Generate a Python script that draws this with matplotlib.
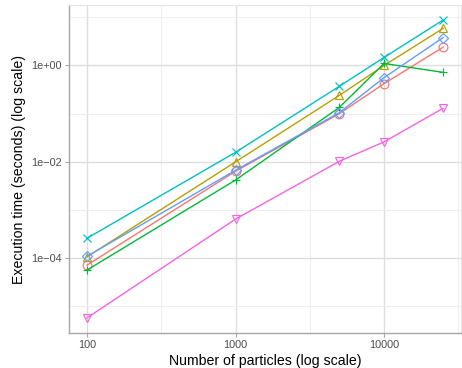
import numpy as np
import matplotlib.pyplot as plt

plt.rcParams['font.family'] = ['Liberation Sans', 'DejaVu Sans']

# number of particles
n_particles = [100, 1000, 5000, 10000, 25000]

# execution time (seconds) per implementation
t_red = [7.2e-5, 0.0064, 0.100, 0.42, 2.4]
t_olive = [1.07e-4, 0.0100, 0.240, 1.00, 5.9]
t_green = [5.7e-5, 0.0042, 0.135, 1.10, 0.72]
t_cyan = [2.6e-4, 0.0158, 0.370, 1.47, 8.8]
t_blue = [1.1e-4, 0.0067, 0.105, 0.56, 3.8]
t_pink = [5.8e-6, 6.5e-4, 0.0103, 0.026, 0.13]

series = [
    (t_red, '#F8766D', 'o'),
    (t_olive, '#B79F00', '^'),
    (t_green, '#00BA38', '+'),
    (t_cyan, '#00BFC4', 'x'),
    (t_blue, '#619CFF', 'D'),
    (t_pink, '#F564E3', 'v'),
]

fig = plt.figure(figsize=(4.62, 3.68), dpi=100)
ax = fig.add_axes([69 / 462, 1 - 333 / 368, (461 - 69) / 462, (333 - 5) / 368])

for vals, col, mk in series:
    filled = mk in ('+', 'x')
    ms = 6.3 if mk != 'D' else 5
    ax.plot(n_particles, vals, color=col, lw=1.0, marker=mk, ms=ms,
            mfc=col if filled else 'none', mec=col, mew=0.85, zorder=3)

ax.set_xscale('log')
ax.set_yscale('log')
ax.set_xlim(10 ** 1.879, 10 ** 4.518)
ax.set_ylim(10 ** -5.55, 10 ** 1.255)

ax.set_xticks([100, 1000, 10000])
ax.set_xticklabels(['100', '1000', '10000'])
ax.set_yticks([1e-4, 1e-2, 1e0])
ax.set_yticklabels(['1e\u221204', '1e\u221202', '1e+00'])
ax.set_xticks([10 ** 2.5, 10 ** 3.5, 10 ** 4.5], minor=True)
ax.set_yticks([1e-5, 1e-3, 1e-1, 1e1], minor=True)
ax.xaxis.set_minor_formatter(plt.NullFormatter())
ax.yaxis.set_minor_formatter(plt.NullFormatter())

ax.grid(True, which='major', color='#DEDEDE', lw=1.0, zorder=0)
ax.grid(True, which='minor', color='#EBEBEB', lw=0.6, zorder=0)
ax.set_axisbelow(True)

for side in ['top', 'right']:
    ax.spines[side].set_color('#E6E6E6')
    ax.spines[side].set_linewidth(0.8)
for side in ['left', 'bottom']:
    ax.spines[side].set_color('#A6A6A6')
    ax.spines[side].set_linewidth(1.0)

ax.tick_params(which='major', length=3, width=0.8, color='#A6A6A6',
               labelsize=7.8, labelcolor='#4D4D4D', pad=2)
ax.tick_params(which='minor', length=0)

ax.set_xlabel('Number of particles (log scale)', fontsize=10.2, labelpad=3)
ax.set_ylabel('Execution time (seconds) (log scale)', fontsize=10.2, labelpad=4)

fig.savefig('out.png', dpi=100)
